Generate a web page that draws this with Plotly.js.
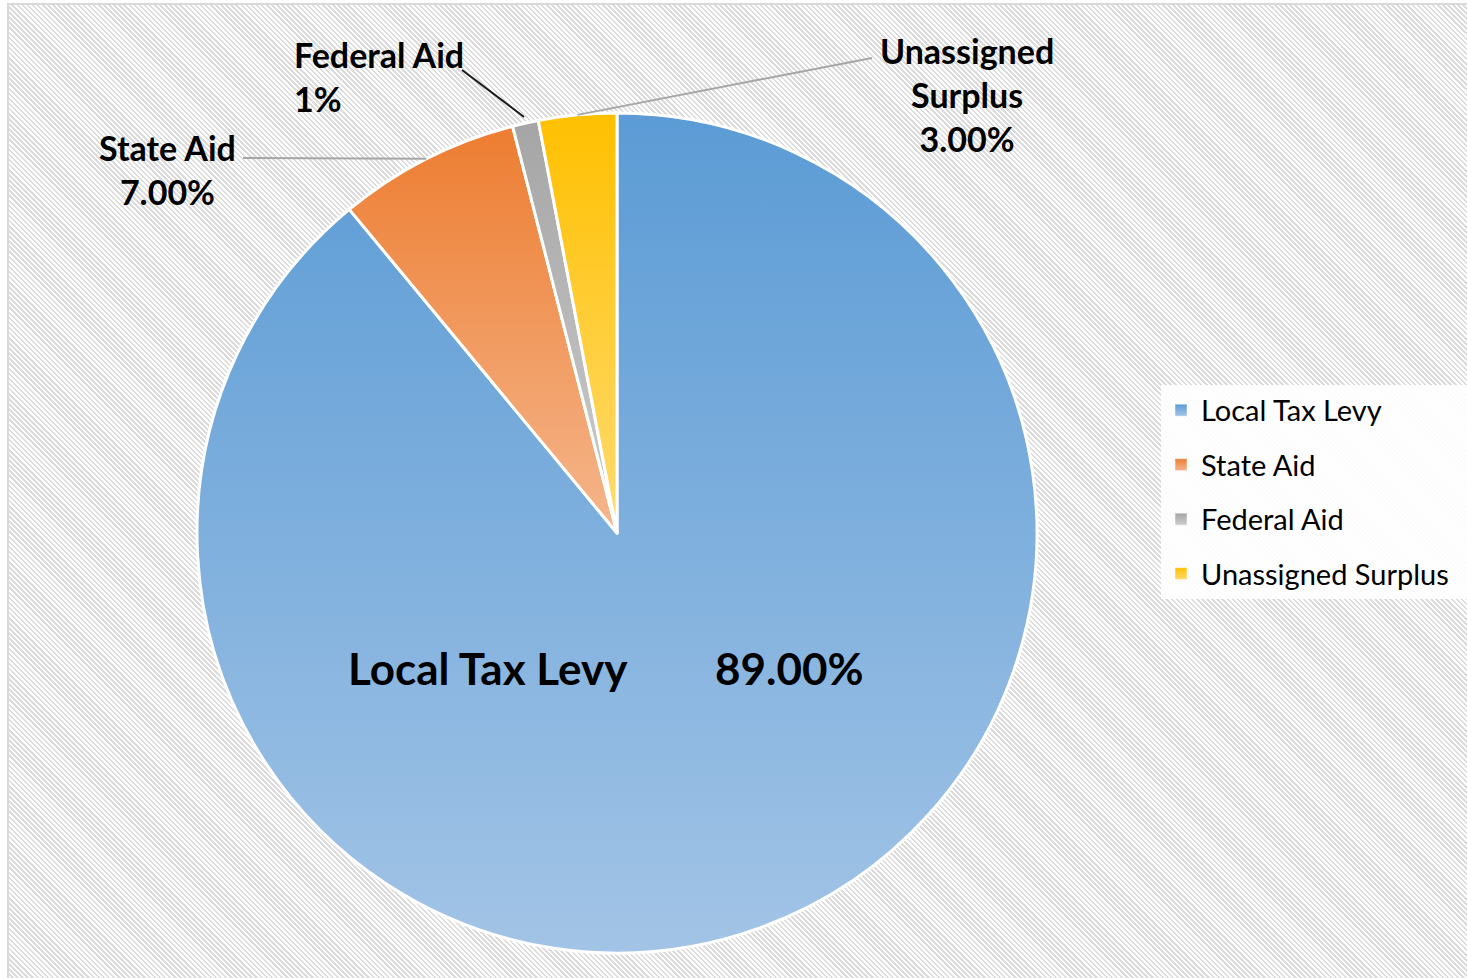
<!DOCTYPE html>
<html><head><meta charset="utf-8">
<script src="https://cdn.plot.ly/plotly-3.0.1.min.js"></script>
<style>
html,body{margin:0;padding:0;background:#fff;overflow:hidden}
#bg{position:absolute;left:7px;top:3px;width:1460px;height:975px;border-left:2px solid #d9d9d9;border-top:2px solid #d9d9d9;box-sizing:border-box;
background:repeating-linear-gradient(45deg,#ffffff 0px,#ffffff 1.8px,#dcdcdc 1.8px,#dcdcdc 3.6px);}
#chart{position:absolute;left:0;top:0;width:1467px;height:978px}
</style></head><body><div id="bg"></div><div id="chart"></div>
<script>
// ---- data ----
const categories = ['Local Tax Levy', 'State Aid', 'Federal Aid', 'Unassigned Surplus'];
const shares = [89, 7, 1, 3];
const valueLabels = ['89.00%', '7.00%', '1%', '3.00%'];
const labelNames = ['Local Tax Levy', 'State Aid', 'Federal Aid', 'Unassigned<br>Surplus'];
const topColors = ['#5B9BD5', '#ED7D31', '#A5A5A5', '#FFC000'];
const bottomColors = ['#A2C4E6', '#F5B68C', '#CDCDCD', '#FFDB70'];

// ---- geometry (style) ----
const W = 1467, H = 978;
const cx = 617, cy = 533, R = 420;
const px = x => x / W;
const py = y => 1 - y / H;

const total = shares.reduce((a, b) => a + b, 0);
function edgePoint(i, k) {
  let before = 0;
  for (let j = 0; j < i; j++) before += shares[j];
  const f = (before + shares[i] / 2) / total;
  const th = 2 * Math.PI * f;
  return [cx + R * k * Math.sin(th), cy - R * k * Math.cos(th)];
}

const labelFont = {family: 'Lato, sans-serif', size: 34, color: '#000', weight: 700};
const annotations = [];
const shapes = [];

// State Aid
(function () {
  const p = edgePoint(1, 1.0);
  shapes.push({type: 'line', xref: 'paper', yref: 'paper', x0: px(p[0]), y0: py(p[1]), x1: px(243), y1: py(158), line: {color: '#A6A6A6', width: 2}});
  annotations.push({xref: 'paper', yref: 'paper', x: px(167), y: py(170), xanchor: 'center', yanchor: 'middle', showarrow: false, align: 'center',
    text: '<b>' + labelNames[1] + '<br>' + valueLabels[1] + '</b>', font: labelFont});
})();
// Federal Aid
(function () {
  const p = edgePoint(2, 1.015);
  shapes.push({type: 'line', xref: 'paper', yref: 'paper', x0: px(p[0]), y0: py(p[1]), x1: px(462), y1: py(70), line: {color: '#1a1a1a', width: 2}});
  annotations.push({xref: 'paper', yref: 'paper', x: px(292), y: py(77), xanchor: 'left', yanchor: 'middle', showarrow: false, align: 'left',
    text: '<b>' + labelNames[2] + '<br>' + valueLabels[2] + '</b>', font: labelFont});
})();
// Unassigned Surplus
(function () {
  const p = edgePoint(3, 1.0);
  shapes.push({type: 'line', xref: 'paper', yref: 'paper', x0: px(p[0]), y0: py(p[1]), x1: px(872), y1: py(58), line: {color: '#A6A6A6', width: 2}});
  annotations.push({xref: 'paper', yref: 'paper', x: px(967), y: py(94), xanchor: 'center', yanchor: 'middle', showarrow: false, align: 'center',
    text: '<b>' + labelNames[3] + '<br>' + valueLabels[3] + '</b>', font: labelFont});
})();
// Local Tax Levy (inside)
annotations.push({xref: 'paper', yref: 'paper', x: px(488), y: py(668), xanchor: 'center', yanchor: 'middle', showarrow: false,
  text: '<b>' + labelNames[0] + '</b>', font: {family: 'Lato, sans-serif', size: 44, color: '#000', weight: 700}});
annotations.push({xref: 'paper', yref: 'paper', x: px(790), y: py(668), xanchor: 'center', yanchor: 'middle', showarrow: false,
  text: '<b>' + valueLabels[0] + '</b>', font: {family: 'Lato, sans-serif', size: 44, color: '#000', weight: 700}});

const trace = {
  type: 'pie',
  labels: categories,
  values: shares,
  sort: false,
  direction: 'clockwise',
  rotation: 0,
  textinfo: 'none',
  hoverinfo: 'label+percent',
  marker: {colors: topColors, line: {color: '#ffffff', width: 3}},
  domain: {x: [px(cx - R), px(cx + R)], y: [py(cy + R), py(cy - R)]}
};

const layout = {
  width: W, height: H,
  margin: {l: 0, r: 0, t: 0, b: 0, pad: 0},
  paper_bgcolor: 'rgba(0,0,0,0)',
  plot_bgcolor: 'rgba(0,0,0,0)',
  font: {family: 'Lato, sans-serif', color: '#000'},
  showlegend: true,
  legend: {x: px(1161), xanchor: 'left', y: py(492), yanchor: 'middle', bgcolor: 'rgba(255,255,255,0.9)',
    font: {family: 'Lato, sans-serif', size: 29, color: '#000'}},
  annotations: annotations,
  shapes: shapes
};

Plotly.newPlot('chart', [trace], layout, {displayModeBar: false, staticPlot: true}).then(gd => {
  const NS = 'http://www.w3.org/2000/svg';
  const svg = gd.querySelector('svg.main-svg');
  let defs = svg.querySelector('defs');
  if (!defs) { defs = document.createElementNS(NS, 'defs'); svg.insertBefore(defs, svg.firstChild); }
  topColors.forEach((c, i) => {
    const g = document.createElementNS(NS, 'linearGradient');
    g.setAttribute('id', 'sliceGrad' + i);
    g.setAttribute('x1', '0'); g.setAttribute('y1', '0'); g.setAttribute('x2', '0'); g.setAttribute('y2', '1');
    const s1 = document.createElementNS(NS, 'stop'); s1.setAttribute('offset', '0'); s1.setAttribute('stop-color', c);
    const s2 = document.createElementNS(NS, 'stop'); s2.setAttribute('offset', '1'); s2.setAttribute('stop-color', bottomColors[i]);
    g.appendChild(s1); g.appendChild(s2); defs.appendChild(g);
  });
  gd.querySelectorAll('g.slice').forEach((s, i) => {
    const p = s.querySelector('path.surface');
    if (p) p.style.fill = 'url(#sliceGrad' + i + ')';
  });
  // legend: gradient swatches and Excel-like spacing
  const items = Array.from(gd.querySelectorAll('.legend .traces'));
  const gap = 54.5;
  const ys = items.map(t => {
    const m = /translate\(\s*([-\d.]+)[ ,]+([-\d.]+)\s*\)/.exec(t.getAttribute('transform') || '');
    return m ? [parseFloat(m[1]), parseFloat(m[2])] : [0, 0];
  });
  if (items.length > 1) {
    const oldGap = ys[1][1] - ys[0][1];
    const extra = (gap - oldGap) * (items.length - 1);
    items.forEach((t, i) => {
      t.setAttribute('transform', 'translate(' + ys[i][0] + ',' + (ys[0][1] + i * gap) + ')');
      const sw = t.querySelector('path.legendpie');
      if (sw) { sw.style.fill = 'url(#sliceGrad' + i + ')'; sw.style.strokeWidth = '0.5px'; }
    });
    const leg = gd.querySelector('g.legend');
    const m = /translate\(\s*([-\d.]+)[ ,]+([-\d.]+)\s*\)/.exec(leg.getAttribute('transform') || '');
    const lx = m ? parseFloat(m[1]) : 0;
    const newW = W - lx;
    const bg = leg.querySelector('rect.bg');
    if (bg) {
      bg.setAttribute('height', parseFloat(bg.getAttribute('height')) + extra);
      bg.setAttribute('width', newW);
    }
    gd.querySelectorAll('clipPath').forEach(cp => {
      if (/legend/.test(cp.id)) {
        const r = cp.querySelector('rect');
        if (r) {
          r.setAttribute('height', parseFloat(r.getAttribute('height')) + extra + 20);
          r.setAttribute('width', newW);
        }
      }
    });
    const sb = leg.querySelector('.scrollbox');
    if (sb) sb.removeAttribute('clip-path');
    if (m) leg.setAttribute('transform', 'translate(' + m[1] + ',' + (parseFloat(m[2]) - extra / 2) + ')');
  }
});
</script></body></html>
